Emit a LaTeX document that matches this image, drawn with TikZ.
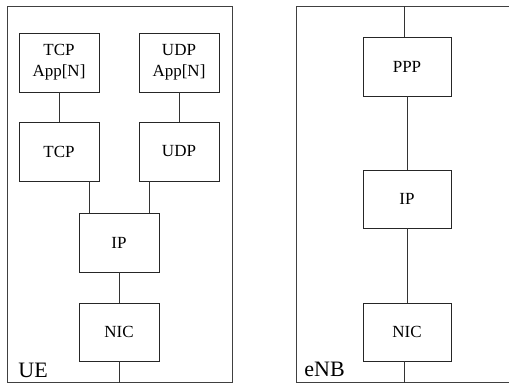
\documentclass[tikz,border=0pt]{standalone}
\usepackage{fontspec}
\setmainfont{Liberation Serif}
\usetikzlibrary{calc}
\begin{document}
\begin{tikzpicture}[x=1pt,y=-1pt,
  line width=0.9pt,
  layer/.style={draw=black!85, minimum width=80pt, minimum height=59pt,
    inner sep=0pt, align=center, font=\fontsize{17}{21}\selectfont},
  wlayer/.style={layer, minimum width=88pt, minimum height=58pt},
  frame/.style={draw=black!75},
  link/.style={draw=black!80},
  tag/.style={anchor=base west, inner sep=0pt, font=\fontsize{22}{24}\selectfont}]
\useasboundingbox (0,0) rectangle (509,384);
\clip (0,0) rectangle (509,384);

% UE protocol stack
\draw[frame] (7,6) rectangle (232,382.5);
\node[layer] (tcpapp) at (59,62.5) {TCP\\App[N]};
\node[layer] (udpapp) at (179,62.5) {UDP\\App[N]};
\node[layer] (tcp) at (59,151.5) {TCP};
\node[layer] (udp) at (179,151.5) {UDP};
\node[layer] (ueip) at (119,242.5) {IP};
\node[layer, minimum height=58pt] (uenic) at (119,332) {NIC};
\coordinate (uebase) at (119,382.5);
\node[tag] (ue) at (18,377.5) {UE};

\draw[link] (tcpapp) -- (tcp);
\draw[link] (udpapp) -- (udp);
\draw[link] ([xshift=30pt]tcp.south) -- ([xshift=30pt]tcp.south |- ueip.north);
\draw[link] ([xshift=-30pt]udp.south) -- ([xshift=-30pt]udp.south |- ueip.north);
\draw[link] (ueip) -- (uenic);
\draw[link] (uenic.south) -- (uebase);

% eNB protocol stack
\draw[frame] (515,6) -- (296,6) -- (296,382.5) -- (515,382.5);
\node[wlayer, minimum height=59pt] (ppp) at (407,66.5) {PPP};
\node[wlayer] (enbip) at (407,199) {IP};
\node[wlayer] (enbnic) at (407,332) {NIC};
\coordinate (enbtop) at (404,6);
\coordinate (enbbase) at (404,382.5);
\node[tag] (enb) at (304,376.5) {eNB};

\draw[link] (enbtop) -- (enbtop |- ppp.north);
\draw[link] (ppp) -- (enbip);
\draw[link] (enbip) -- (enbnic);
\draw[link] (enbbase |- enbnic.south) -- (enbbase);
\end{tikzpicture}
\end{document}
